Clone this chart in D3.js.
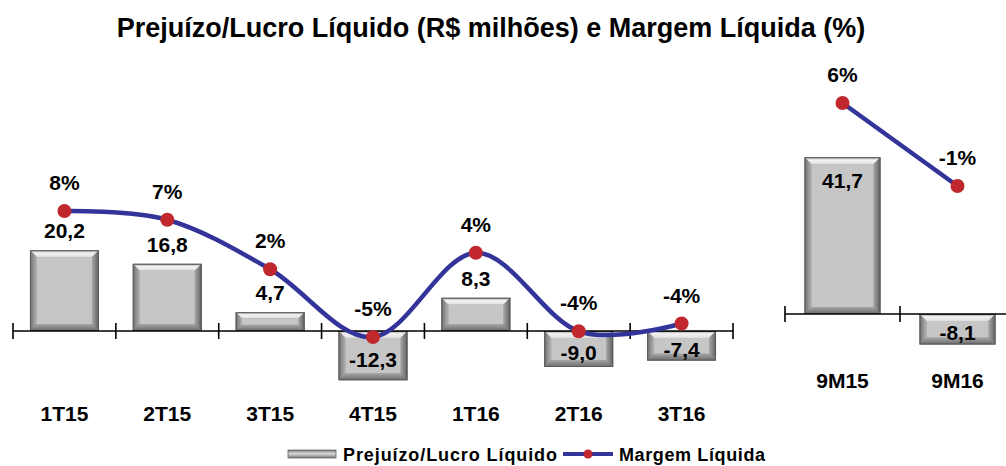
<!DOCTYPE html>
<html>
<head>
<meta charset="utf-8">
<script src="https://cdn.jsdelivr.net/npm/d3@7"></script>
<style>
  body { margin: 0; background: #fff; }
  text { font-family: "Liberation Sans", Arial, sans-serif; font-weight: bold; fill: #000; }
</style>
</head>
<body>
<svg id="chart" width="1006" height="466"></svg>
<script>
// quarterly data
const quarters = ["1T15", "2T15", "3T15", "4T15", "1T16", "2T16", "3T16"];
const lucroTrim = [20.2, 16.8, 4.7, -12.3, 8.3, -9.0, -7.4];
const margemTrim = [8.0, 7.1, 2.0, -5.0, 3.7, -4.4, -3.6];

// nine-month data
const periods = ["9M15", "9M16"];
const lucroAcum = [41.7, -8.1];
const margemAcum = [6.0, -1.0];

const ptBR = d3.formatLocale({ decimal: ",", thousands: ".", grouping: [3], currency: ["R$", ""], minus: "-" });
const fmtVal = ptBR.format(".1f");
const fmtPct = v => ptBR.format(".0f")(v) + "%";

const svg = d3.select("#chart");
const lineColor = "#33349a";
const dotColor = "#c0282d";

svg.append("text")
  .attr("x", 491)
  .attr("y", 37)
  .attr("text-anchor", "middle")
  .attr("font-size", "27px")
  .text("Prejuízo/Lucro Líquido (R$ milhões) e Margem Líquida (%)");

/*
 * Grey bevelled bar like the spreadsheet one
 */
function bevelBar(g, x, y, w, h) {
  const b = Math.min(7, h / 3, w / 4);
  const bar = g.append("g");
  bar.append("rect")
    .attr("x", x).attr("y", y).attr("width", w).attr("height", h)
    .attr("fill", "#8c8c8c");
  const pts = (arr) => arr.map(p => p.join(",")).join(" ");
  // top
  bar.append("polygon")
    .attr("points", pts([[x, y], [x + w, y], [x + w - b, y + b], [x + b, y + b]]))
    .attr("fill", "url(#bevTop)");
  // left
  bar.append("polygon")
    .attr("points", pts([[x, y], [x + b, y + b], [x + b, y + h - b], [x, y + h]]))
    .attr("fill", "url(#bevLeft)");
  // right
  bar.append("polygon")
    .attr("points", pts([[x + w, y], [x + w, y + h], [x + w - b, y + h - b], [x + w - b, y + b]]))
    .attr("fill", "url(#bevRight)");
  // bottom
  bar.append("polygon")
    .attr("points", pts([[x, y + h], [x + b, y + h - b], [x + w - b, y + h - b], [x + w, y + h]]))
    .attr("fill", "url(#bevBottom)");
  // face
  bar.append("rect")
    .attr("x", x + b).attr("y", y + b)
    .attr("width", Math.max(0, w - 2 * b)).attr("height", Math.max(0, h - 2 * b))
    .attr("fill", "#c6c6c6");
  bar.append("rect")
    .attr("x", x + 0.5).attr("y", y + 0.5).attr("width", w - 1).attr("height", h - 1)
    .attr("fill", "none").attr("stroke", "#5a5a5a").attr("stroke-width", 1);
}

const defs = svg.append("defs");
function grad(id, x1, y1, x2, y2, stops) {
  const gr = defs.append("linearGradient").attr("id", id)
    .attr("x1", x1).attr("y1", y1).attr("x2", x2).attr("y2", y2);
  stops.forEach(s => gr.append("stop").attr("offset", s[0]).attr("stop-color", s[1]));
}
grad("bevTop", 0, 0, 0, 1, [[0, "#9a9a9a"], [0.4, "#f4f4f4"], [1, "#dedede"]]);
grad("bevLeft", 0, 0, 1, 0, [[0, "#6e6e6e"], [1, "#b4b4b4"]]);
grad("bevRight", 0, 0, 1, 0, [[0, "#a8a8a8"], [1, "#5e5e5e"]]);
grad("bevBottom", 0, 0, 0, 1, [[0, "#a6a6a6"], [1, "#6a6a6a"]]);
grad("legBar", 0, 0, 0, 1, [[0, "#777"], [0.45, "#d8d8d8"], [1, "#777"]]);

/*
 * One panel: bars + margin line + axis with ticks between categories
 */
function drawPanel(cats, bars, margins, opts) {
  const x = d3.scaleBand().domain(cats).range(opts.xRange)
    .paddingInner(opts.pad).paddingOuter(opts.pad / 2);
  const y = d3.scaleLinear().domain(opts.barDomain).range(opts.barRange);
  const ym = d3.scaleLinear().domain(opts.lineDomain).range(opts.lineRange);
  const y0 = y(0);
  const g = svg.append("g");

  bars.forEach((v, i) => {
    const top = Math.min(y(v), y0);
    bevelBar(g, x(cats[i]), top, x.bandwidth(), Math.abs(y(v) - y0));
  });

  // axis
  const step = x.step();
  const axisG = g.append("g").attr("stroke", "#000").attr("stroke-width", 1.6);
  axisG.append("line")
    .attr("x1", opts.axisStart).attr("x2", opts.axisEnd)
    .attr("y1", y0).attr("y2", y0);
  d3.range(opts.nTicks).forEach(i => {
    const tx = opts.xRange[0] + i * step;
    axisG.append("line")
      .attr("x1", tx).attr("x2", tx)
      .attr("y1", y0 - 8).attr("y2", y0 + 8);
  });

  // margin line
  const cx = c => x(c) + x.bandwidth() / 2;
  const line = d3.line()
    .x((d, i) => cx(cats[i]))
    .y(d => ym(d))
    .curve(opts.curve);
  g.append("path")
    .datum(margins)
    .attr("d", line)
    .attr("fill", "none")
    .attr("stroke", lineColor)
    .attr("stroke-width", 4.5)
    .attr("stroke-linecap", "round");
  g.selectAll("circle.dot")
    .data(margins)
    .enter()
    .append("circle")
    .attr("cx", (d, i) => cx(cats[i]))
    .attr("cy", d => ym(d))
    .attr("r", 7)
    .attr("fill", dotColor);

  // margin labels
  g.selectAll("text.pct")
    .data(margins)
    .enter()
    .append("text")
    .attr("x", (d, i) => cx(cats[i]))
    .attr("y", d => ym(d) - 21)
    .attr("text-anchor", "middle")
    .attr("font-size", "21px")
    .text(d => fmtPct(d));

  // bar value labels
  g.selectAll("text.val")
    .data(bars)
    .enter()
    .append("text")
    .attr("x", (d, i) => cx(cats[i]))
    .attr("y", d => {
      if (d < 0) return (y0 + y(d)) / 2 + 11;
      return opts.posInside ? y(d) + 31 : y(d) - 12;
    })
    .attr("text-anchor", "middle")
    .attr("font-size", "21px")
    .text(d => fmtVal(d));

  // category labels
  g.selectAll("text.cat")
    .data(cats)
    .enter()
    .append("text")
    .attr("x", d => cx(d))
    .attr("y", opts.catY)
    .attr("text-anchor", "middle")
    .attr("font-size", "21px")
    .text(d => d);
}

drawPanel(quarters, lucroTrim, margemTrim, {
  xRange: [13, 733], pad: 0.33,
  barDomain: [-15, 25], barRange: [391, 231],
  lineDomain: [-6, 9], lineRange: [346.8, 201.3],
  axisStart: 13, axisEnd: 733, nTicks: 8,
  curve: d3.curveCardinal.tension(0),
  posInside: false, catY: 421
});

drawPanel(periods, lucroAcum, margemAcum, {
  xRange: [785, 1015], pad: 0.34,
  barDomain: [-10, 45], barRange: [351.6, 144.8],
  lineDomain: [-1, 6], lineRange: [186, 103],
  axisStart: 785, axisEnd: 1006, nTicks: 2,
  curve: d3.curveLinear,
  posInside: true, catY: 388
});

// legend
const leg = svg.append("g");
leg.append("rect")
  .attr("x", 288).attr("y", 450).attr("width", 48).attr("height", 8)
  .attr("fill", "url(#legBar)").attr("stroke", "#666").attr("stroke-width", 0.8);
leg.append("text")
  .attr("x", 343).attr("y", 461)
  .attr("font-size", "18px")
  .attr("textLength", 214).attr("lengthAdjust", "spacing")
  .text("Prejuízo/Lucro Líquido");
leg.append("line")
  .attr("x1", 563).attr("x2", 613).attr("y1", 454).attr("y2", 454)
  .attr("stroke", lineColor).attr("stroke-width", 4);
leg.append("circle")
  .attr("cx", 588).attr("cy", 454).attr("r", 4.5).attr("fill", dotColor);
leg.append("text")
  .attr("x", 619).attr("y", 461)
  .attr("font-size", "18px")
  .attr("textLength", 146).attr("lengthAdjust", "spacing")
  .text("Margem Líquida");
</script>
</body>
</html>
